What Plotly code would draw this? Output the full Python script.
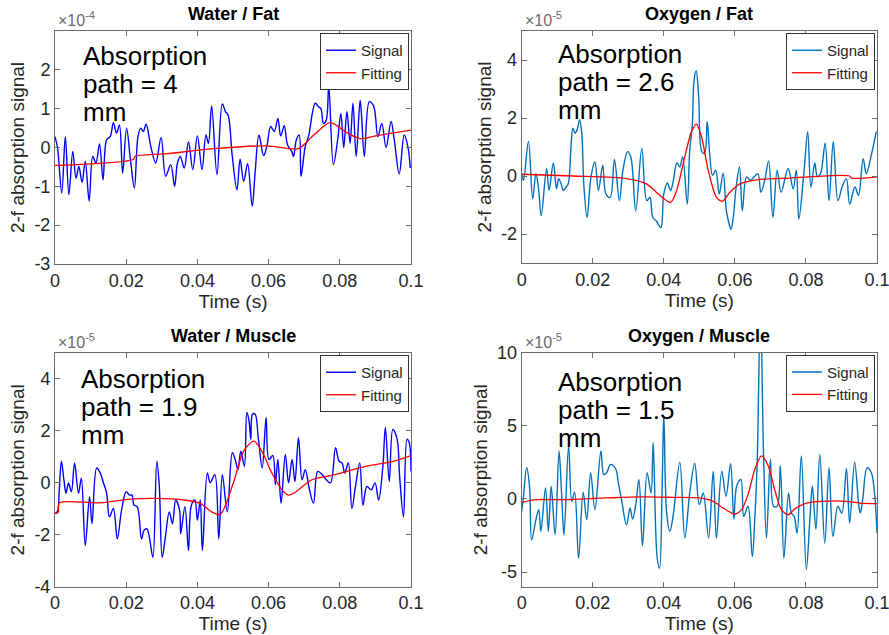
import plotly.graph_objects as go

# ---------------- data (signal values in units of the axis exponent) ----------------
# Water / Fat  (x1e-4)
wf_t = [0.0000, 0.0007, 0.0019, 0.0029, 0.0039, 0.0050, 0.0059, 0.0067, 0.0076, 0.0085,
        0.0096, 0.0106, 0.0115, 0.0125, 0.0135, 0.0145, 0.0155, 0.0164, 0.0173, 0.0181,
        0.0190, 0.0201, 0.0212, 0.0223, 0.0233, 0.0241, 0.0248, 0.0256, 0.0269, 0.0283,
        0.0298, 0.0311, 0.0325, 0.0336, 0.0344, 0.0352, 0.0363, 0.0375, 0.0387, 0.0400,
        0.0413, 0.0424, 0.0431, 0.0440, 0.0455, 0.0470, 0.0479, 0.0486, 0.0498, 0.0511,
        0.0520, 0.0530, 0.0541, 0.0554, 0.0562, 0.0573, 0.0586, 0.0595, 0.0606, 0.0616,
        0.0626, 0.0634, 0.0644, 0.0653, 0.0665, 0.0670, 0.0678, 0.0686, 0.0691, 0.0703,
        0.0712, 0.0731, 0.0740, 0.0747, 0.0754, 0.0762, 0.0769, 0.0782, 0.0794, 0.0803,
        0.0811, 0.0820, 0.0829, 0.0837, 0.0846, 0.0857, 0.0861, 0.0869, 0.0883, 0.0895,
        0.0907, 0.0918, 0.0930, 0.0944, 0.0953, 0.0967, 0.0981, 0.0991, 0.0998]
wf_sig = [0.28, 0.00, -1.17, 0.28, -1.21, -0.10, -0.79, -0.49, -0.90, -0.36,
          -1.38, -0.23, -0.40, 0.09, -0.83, 0.20, 0.28, 0.64, 0.37, 0.58,
          -0.66, 0.50, -0.32, -1.04, 0.28, 0.50, 0.41, 0.60, 0.03, -0.40,
          0.26, -0.74, -0.44, -1.00, -0.40, -0.23, -0.53, 0.15, -0.57, 0.30,
          -0.57, 0.32, 0.11, 1.07, -0.70, 1.12, 0.92, 0.84, -0.23, -1.09,
          -0.30, -0.87, -0.42, -1.51, -0.66, 0.32, -0.21, 0.03, 0.54, 0.41,
          0.75, 0.30, 0.56, 0.07, -0.10, -0.23, 0.20, 0.32, -0.74, 0.03,
          0.28, 1.14, 1.05, 1.00, 0.62, 0.71, 1.60, -0.44, 0.20, 0.88,
          0.00, 0.92, 0.11, 1.14, -0.23, 1.22, 0.84, -0.23, 1.18, 1.07,
          0.28, 0.62, 0.00, 0.67, 0.20, -0.68, 0.32, 0.03, -0.53]
wf_fit_t = [0.0, 0.0221, 0.0224, 0.0314, 0.0446, 0.0595, 0.0651, 0.0684, 0.0727,
            0.0773, 0.0820, 0.0857, 0.0900, 0.1]
wf_fit = [-0.46, -0.30, -0.23, -0.16, -0.03, 0.04, -0.02, -0.03, 0.32,
          0.64, 0.38, 0.23, 0.30, 0.45]

# Oxygen / Fat  (x1e-5)
of_t = [0.0000, 0.0005, 0.0019, 0.0031, 0.0040, 0.0047, 0.0055, 0.0070, 0.0077, 0.0089,
        0.0098, 0.0104, 0.0111, 0.0117, 0.0125, 0.0131, 0.0139, 0.0144, 0.0150, 0.0156,
        0.0163, 0.0169, 0.0175, 0.0184, 0.0195, 0.0206, 0.0216, 0.0228, 0.0237, 0.0249,
        0.0261, 0.0275, 0.0285, 0.0298, 0.0307, 0.0321, 0.0338, 0.0352, 0.0361, 0.0369,
        0.0379, 0.0384, 0.0392, 0.0400, 0.0410, 0.0419, 0.0426, 0.0437, 0.0445, 0.0453,
        0.0466, 0.0473, 0.0480, 0.0485, 0.0491, 0.0498, 0.0507, 0.0515, 0.0522, 0.0529,
        0.0537, 0.0546, 0.0556, 0.0567, 0.0576, 0.0584, 0.0589, 0.0596, 0.0603, 0.0613,
        0.0621, 0.0633, 0.0644, 0.0654, 0.0665, 0.0673, 0.0684, 0.0695, 0.0707, 0.0719,
        0.0730, 0.0750, 0.0764, 0.0773, 0.0780, 0.0794, 0.0805, 0.0814, 0.0825, 0.0832,
        0.0841, 0.0854, 0.0865, 0.0877, 0.0890, 0.0903, 0.0914, 0.0923, 0.0938, 0.0948,
        0.0961, 0.0970, 0.0985, 0.0998]
of_sig = [0.08, -0.15, 1.19, -0.79, 0.08, -0.38, -1.37, 0.26, -0.50, 0.45,
          -0.44, -0.09, -0.27, -0.50, -0.38, -0.27, 1.07, 1.65, 1.48, 1.59,
          1.94, 1.48, -0.33, -1.43, -0.03, 0.49, -0.50, 0.37, -0.62, -0.74,
          0.57, -0.85, 0.20, 0.84, 0.66, -1.20, 0.95, -0.85, -0.74, -1.43,
          -1.55, -1.66, -1.78, -0.62, -0.24, -0.50, -0.21, 0.45, 0.31, 0.66,
          -0.97, 0.90, 1.71, 3.28, 3.63, 2.76, 0.84, 0.78, 1.88, 0.78,
          0.02, 0.20, -0.62, 0.10, -1.20, -1.66, -1.84, -1.37, -0.44, 0.31,
          -1.20, -0.03, -0.15, -0.03, 0.08, -0.56, -0.15, 0.52, -1.43, 0.20,
          -0.56, 0.26, -0.44, 0.20, -1.49, 0.08, 1.53, -0.38, 0.45, -0.03,
          0.08, 1.13, -0.85, 1.19, -0.85, -0.33, -0.09, -0.97, -0.38, -0.67,
          0.60, 0.08, 0.78, 1.53]
of_fit_t = [0.0, 0.0145, 0.0295, 0.0351, 0.0389, 0.0419, 0.0436, 0.0459, 0.0478, 0.0492,
            0.0506, 0.0525, 0.0548, 0.0565, 0.0586, 0.0614, 0.0661, 0.0754, 0.0923,
            0.0928, 0.1]
of_fit = [0.06, 0.00, -0.09, -0.27, -0.67, -0.91, -0.50, 0.66, 1.53, 1.79,
          1.36, 0.20, -0.73, -0.87, -0.56, -0.27, -0.13, -0.07, 0.00,
          -0.07, -0.03]

# Water / Muscle  (x1e-5)
wm_t = [0.0000, 0.0007, 0.0012, 0.0018, 0.0025, 0.0031, 0.0038, 0.0046, 0.0055, 0.0066,
        0.0074, 0.0085, 0.0097, 0.0104, 0.0117, 0.0127, 0.0136, 0.0145, 0.0153, 0.0164,
        0.0175, 0.0187, 0.0200, 0.0209, 0.0216, 0.0222, 0.0231, 0.0243, 0.0250, 0.0258,
        0.0265, 0.0275, 0.0286, 0.0293, 0.0301, 0.0310, 0.0321, 0.0330, 0.0339, 0.0350,
        0.0353, 0.0365, 0.0375, 0.0383, 0.0393, 0.0400, 0.0408, 0.0414, 0.0428, 0.0436,
        0.0449, 0.0460, 0.0470, 0.0484, 0.0498, 0.0506, 0.0514, 0.0522, 0.0532, 0.0539,
        0.0545, 0.0550, 0.0555, 0.0562, 0.0571, 0.0582, 0.0593, 0.0601, 0.0612, 0.0619,
        0.0626, 0.0635, 0.0647, 0.0656, 0.0666, 0.0674, 0.0684, 0.0694, 0.0703, 0.0714,
        0.0726, 0.0738, 0.0751, 0.0762, 0.0774, 0.0788, 0.0798, 0.0806, 0.0814, 0.0824,
        0.0834, 0.0844, 0.0856, 0.0865, 0.0876, 0.0888, 0.0899, 0.0909, 0.0921, 0.0928,
        0.0939, 0.0949, 0.0961, 0.0968, 0.0979, 0.0989, 0.0995, 0.1000]
wm_sig = [-1.18, -1.10, -0.27, 0.83, 0.12, -0.40, 0.00, -0.34, 0.77, -0.40,
          0.18, -2.42, -0.53, -1.57, 0.57, 0.38, 0.00, -0.40, -1.31, -0.99,
          -2.16, -1.05, -0.34, -0.47, -0.47, -0.86, -0.92, -2.16, -1.83, -1.77,
          -2.09, -2.87, 0.83, -0.14, -2.87, -2.09, -1.12, -1.57, -0.66, -1.05,
          -1.96, -0.92, -2.61, -0.86, -0.66, -1.44, -0.66, -2.61, 0.38, 0.00,
          0.31, -2.16, 0.31, -1.12, 1.16, 0.90, 0.51, 1.22, 0.64, 2.71,
          2.39, 1.68, 2.65, 2.65, 1.74, 0.57, 2.52, 0.90, 1.05, -0.08,
          0.90, -0.79, 1.09, 0.00, 0.90, 0.05, 1.74, 0.12, 0.51, -0.21,
          -0.79, 0.44, 0.31, 0.12, 0.00, 1.35, 0.83, 0.77, 0.38, 0.77,
          -0.99, -0.14, 0.77, -0.86, -0.14, -0.27, 0.00, -0.66, 0.64, 2.13,
          0.05, 2.06, 1.68, 0.25, -1.31, 1.68, 1.55, 0.44]
wm_fit_t = [0.0, 0.0009, 0.0012, 0.0127, 0.0220, 0.0286, 0.0361, 0.0408, 0.0440, 0.0464,
            0.0501, 0.0530, 0.0558, 0.0581, 0.0609, 0.0642, 0.0656, 0.0670, 0.0722,
            0.0783, 0.0876, 0.0951, 0.1]
wm_fit = [-1.18, -1.15, -0.77, -0.77, -0.62, -0.60, -0.66, -0.79, -1.12, -1.22,
          0.00, 1.22, 1.61, 1.22, 0.38, -0.34, -0.47, -0.40, 0.12,
          0.31, 0.64, 0.83, 1.05]

# Oxygen / Muscle  (x1e-5)
om_t = [0.0000, 0.0005, 0.0014, 0.0022, 0.0028, 0.0040, 0.0048, 0.0054, 0.0067, 0.0075,
        0.0083, 0.0094, 0.0105, 0.0112, 0.0119, 0.0132, 0.0141, 0.0149, 0.0160, 0.0173,
        0.0183, 0.0194, 0.0206, 0.0223, 0.0231, 0.0239, 0.0250, 0.0265, 0.0272, 0.0281,
        0.0295, 0.0305, 0.0312, 0.0321, 0.0330, 0.0340, 0.0353, 0.0364, 0.0370, 0.0381,
        0.0388, 0.0395, 0.0400, 0.0408, 0.0417, 0.0426, 0.0445, 0.0459, 0.0473, 0.0487,
        0.0500, 0.0511, 0.0526, 0.0539, 0.0548, 0.0563, 0.0575, 0.0588, 0.0597, 0.0605,
        0.0617, 0.0625, 0.0637, 0.0649, 0.0656, 0.0663, 0.0672, 0.0681, 0.0689, 0.0700,
        0.0709, 0.0719, 0.0728, 0.0738, 0.0751, 0.0759, 0.0767, 0.0775, 0.0787, 0.0801,
        0.0811, 0.0818, 0.0828, 0.0839, 0.0853, 0.0865, 0.0876, 0.0890, 0.0901, 0.0914,
        0.0923, 0.0937, 0.0949, 0.0953, 0.0960, 0.0972, 0.0984, 0.0993, 0.1000]
om_sig = [-0.85, 0.18, 2.13, 0.87, -2.80, -1.42, -0.73, -2.22, 0.76, -2.22,
          0.87, -2.45, 3.28, 0.50, -2.45, 3.62, -0.16, 0.46, -4.06, 0.46,
          -1.42, 1.79, -0.73, 3.28, 1.67, 1.79, 2.36, 2.02, 1.10, -0.05,
          -1.77, -0.62, -1.38, -0.39, 1.33, -3.21, 1.79, 0.41, 3.85, -3.94,
          -4.75, 0.41, 5.69, -0.96, -2.22, -1.19, 2.52, -2.68, 0.41, 2.43,
          -0.39, 0.41, -2.68, 1.90, -2.68, 1.90, 0.18, 2.43, -1.38, 0.87,
          1.33, -1.19, -0.50, -3.94, -1.42, 2.71, 13.0, 2.71, -2.68, 2.71,
          -0.50, -0.50, 2.25, -4.06, 0.41, -0.96, -1.19, -2.34, 2.94, -4.82,
          -1.42, 0.87, -2.06, 3.05, -3.03, 2.13, -2.57, -0.50, -0.96, 2.06,
          -1.65, 2.52, -0.50, -0.96, 0.00, 2.13, 1.79, 0.41, -2.34]
om_fit_t = [0.0, 0.0042, 0.0117, 0.0239, 0.0333, 0.0426, 0.0501, 0.0539, 0.0567, 0.0600,
            0.0619, 0.0637, 0.0656, 0.0675, 0.0694, 0.0712, 0.0731, 0.0750, 0.0768,
            0.0801, 0.0848, 0.0914, 0.0951, 0.1]
om_fit = [-0.23, -0.05, -0.05, 0.07, 0.14, 0.11, 0.07, -0.16, -0.62, -1.03,
          -0.73, 0.30, 2.02, 2.94, 2.25, 0.64, -0.73, -1.08, -0.69,
          -0.28, -0.16, -0.16, -0.28, -0.32]

panel_titles = ["Water / Fat", "Oxygen / Fat", "Water / Muscle", "Oxygen / Muscle"]
path_labels = ["4", "2.6", "1.9", "1.5"]
exponents = ["-4", "-5", "-5", "-5"]
y_ranges = [[-3, 3], [-3, 5], [-4, 5], [-6, 10]]
y_ticks = [[-3, -2, -1, 0, 1, 2], [-2, 0, 2, 4], [-4, -2, 0, 2, 4], [-5, 0, 5, 10]]
x_ticks = [0, 0.02, 0.04, 0.06, 0.08, 0.1]
x_ticktext = ["0", "0.02", "0.04", "0.06", "0.08", "0.1"]

# ---------------- layout geometry (pixels in an 889 x 635 canvas) ----------------
W, H = 889, 635
boxes = [(55, 411, 31, 264), (521.7, 877, 31, 263),
         (55, 411, 353, 586.7), (521.7, 877, 352.7, 586.7)]
text_left = [81, 555.5, 79, 555.5]
text_base = [64, 62, 387, 390]

BLUE = "#0000FF"
MBLUE = "#0072BD"
RED = "#FF0000"
FONT = "Liberation Sans, Arial, Helvetica, sans-serif"
AXIS_GRAY = "#6b6b6b"
TEXT_GRAY = "#262626"

series = [
    (wf_t, wf_sig, wf_fit_t, wf_fit, BLUE),
    (of_t, of_sig, of_fit_t, of_fit, MBLUE),
    (wm_t, wm_sig, wm_fit_t, wm_fit, BLUE),
    (om_t, om_sig, om_fit_t, om_fit, MBLUE),
]

fig = go.Figure()
annotations = []
layout = {}

for i, (t, s, ft, f, col) in enumerate(series):
    n = i + 1
    xa = "x" if n == 1 else f"x{n}"
    ya = "y" if n == 1 else f"y{n}"
    lg = "legend" if n == 1 else f"legend{n}"
    fig.add_trace(go.Scatter(x=t, y=s, mode="lines", name="Signal",
                             line=dict(color=col, width=1.4, shape="spline", smoothing=1.0),
                             xaxis=xa, yaxis=ya, legend=lg))
    fig.add_trace(go.Scatter(x=ft, y=f, mode="lines", name="Fitting",
                             line=dict(color=RED, width=1.3, shape="spline", smoothing=0.8),
                             xaxis=xa, yaxis=ya, legend=lg))

    x0, x1, y0, y1 = boxes[i]
    axis_common = dict(showline=True, linecolor=AXIS_GRAY, linewidth=1, mirror="ticks",
                       ticks="inside", ticklen=5, tickcolor=AXIS_GRAY, showgrid=False,
                       zeroline=False, automargin=False, ticklabeloverflow="allow",
                       tickfont=dict(family=FONT, size=18, color=TEXT_GRAY))
    layout["xaxis" if n == 1 else f"xaxis{n}"] = dict(
        axis_common, domain=[x0 / W, x1 / W], anchor=ya, range=[0, 0.1],
        tickvals=x_ticks, ticktext=x_ticktext,
        title=dict(text="Time (s)", font=dict(family=FONT, size=19, color=TEXT_GRAY), standoff=2))
    layout["yaxis" if n == 1 else f"yaxis{n}"] = dict(
        axis_common, domain=[1 - y1 / H, 1 - y0 / H], anchor=xa, range=y_ranges[i],
        tickvals=y_ticks[i], ticktext=[str(v) for v in y_ticks[i]],
        title=dict(text="2-f absorption signal", font=dict(family=FONT, size=19, color=TEXT_GRAY),
                   standoff=4))

    layout[lg] = dict(x=(x1 - 2) / W, y=1 - (y0 + 2) / H, xanchor="right", yanchor="top",
                      bgcolor="white", bordercolor="#333333", borderwidth=1,
                      font=dict(family=FONT, size=15, color=TEXT_GRAY),
                      itemwidth=30, tracegroupgap=0)

    # panel title
    annotations.append(dict(text="<b>%s</b>" % panel_titles[i], x=(x0 + x1) / 2 / W,
                            y=1 - (y0 - 17) / H, xref="paper", yref="paper",
                            xanchor="center", yanchor="middle", showarrow=False,
                            font=dict(family=FONT, size=18, color="#000000")))
    # axis exponent
    annotations.append(dict(text="\u00d710<sup>%s</sup>" % exponents[i], x=(x0 + 1) / W,
                            y=1 - (y0 - 12) / H, xref="paper", yref="paper",
                            xanchor="left", yanchor="middle", showarrow=False,
                            font=dict(family=FONT, size=16, color=AXIS_GRAY)))
    # in-plot absorption path label
    for k, line in enumerate(["Absorption", "path = %s" % path_labels[i], "mm"]):
        base = text_base[i] + 28 * k
        annotations.append(dict(text=line, x=text_left[i] / W, y=1 - (base - 8) / H,
                                xref="paper", yref="paper", xanchor="left",
                                yanchor="middle", showarrow=False,
                                font=dict(family=FONT, size=26, color="#000000")))

fig.update_layout(
    width=W, height=H, margin=dict(l=0, r=0, t=0, b=0),
    paper_bgcolor="white", plot_bgcolor="white",
    showlegend=True, annotations=annotations, **layout)

fig.write_html("out.html")
